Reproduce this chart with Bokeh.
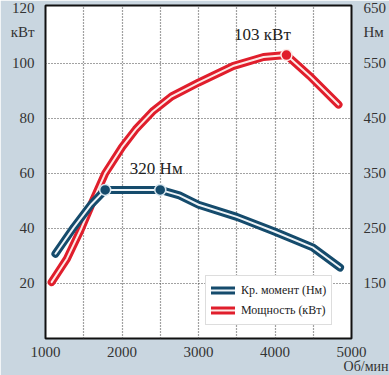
from bokeh.plotting import figure
from bokeh.models import Range1d, LinearAxis, FixedTicker, Label, Legend, LegendItem, Title
from bokeh.embed import file_html
from bokeh.resources import INLINE

# ---- data ----
rpm_power = [1080, 1280, 1460, 1620, 1780, 2000, 2180, 2400, 2650, 3000, 3450, 3850, 4150, 4450, 4830]
power_kw = [20.5, 29, 39.5, 50, 60, 69.5, 76, 82.5, 88, 93, 99, 102.3, 103, 95.5, 85]
rpm_torque = [1130, 1370, 1600, 1780, 2500, 2750, 3000, 3500, 4000, 4500, 4850]
torque_nm = [204, 252, 294, 320, 320, 310, 293, 271, 244, 215, 179]
torque_mark_rpm = [1780, 2500]
torque_mark_nm = [320, 320]
power_mark_rpm = [4150]
power_mark_kw = [103]
x_ticks = [1000, 2000, 3000, 4000, 5000]
x_grid = [1500, 2000, 2500, 3000, 3500, 4000, 4500]
kw_ticks = [20, 40, 60, 80, 100, 120]
nm_ticks = [150, 250, 350, 450, 550, 650]
kw_grid = [20, 40, 60, 80, 100]
kw_unit_pos = 111.5   # where the "кВт" unit text sits on the left scale
nm_unit_pos = 606     # where the "Нм" unit text sits on the right scale

FONT = "Liberation Serif"
BG = "#c9d6e0"
RED = "#e01e2c"
BLUE = "#154b6c"

KW_MAX = 121.0
p = figure(width=389, height=375, output_backend="svg", toolbar_location=None,
           x_range=Range1d(1000, 5000), y_range=Range1d(0, KW_MAX),
           min_border_left=45, min_border_right=38, min_border_top=5, min_border_bottom=37)
p.extra_y_ranges = {"nm": Range1d(5 * 0 + 50, 5 * KW_MAX + 50)}

p.border_fill_color = BG
p.background_fill_color = "white"
p.outline_line_color = "#111111"
p.outline_line_width = 2

# axes
for ax in [p.xaxis[0], p.yaxis[0]]:
    ax.axis_line_color = None
    ax.major_tick_line_color = None
    ax.minor_tick_line_color = None
    ax.major_label_text_font = FONT
    ax.major_label_text_font_size = "15px"
    ax.major_label_text_color = "#333333"
p.xaxis.ticker = FixedTicker(ticks=x_ticks)
p.yaxis.ticker = FixedTicker(ticks=kw_ticks + [kw_unit_pos])
p.yaxis.major_label_overrides = {kw_unit_pos: "кВт"}
p.xaxis.major_label_standoff = 2
p.yaxis.major_label_standoff = 5

rax = LinearAxis(y_range_name="nm", ticker=FixedTicker(ticks=nm_ticks + [nm_unit_pos]))
rax.major_label_overrides = {nm_unit_pos: "Нм"}
rax.axis_line_color = None
rax.major_tick_line_color = None
rax.minor_tick_line_color = None
rax.major_label_text_font = FONT
rax.major_label_text_font_size = "15px"
rax.major_label_text_color = "#333333"
rax.major_label_standoff = 6
p.add_layout(rax, "right")

# x unit text under the axis, right-aligned past the frame edge
p.add_layout(Title(text="Об/мин", align="right", offset=-37, standoff=-6,
                   text_font=FONT, text_font_size="14px", text_font_style="normal",
                   text_color="#333333"), "below")

# grid
p.xgrid.ticker = FixedTicker(ticks=x_grid)
p.ygrid.ticker = FixedTicker(ticks=kw_grid)
for g in [p.xgrid[0], p.ygrid[0]]:
    g.grid_line_color = "#444444"
    g.grid_line_dash = "1 2"
    g.grid_line_width = 1.2

# curves
r_p_out = p.line(rpm_power, power_kw, line_color=RED, line_width=8, line_cap="round", line_join="round")
r_p_in = p.line(rpm_power, power_kw, line_color="#fde9e6", line_width=2, line_cap="round", line_join="round")
r_t_out = p.line(rpm_torque, torque_nm, y_range_name="nm", line_color=BLUE, line_width=8,
                 line_cap="round", line_join="round")
r_t_in = p.line(rpm_torque, torque_nm, y_range_name="nm", line_color="#eef4f8", line_width=2,
                line_cap="round", line_join="round")

p.scatter(torque_mark_rpm, torque_mark_nm, y_range_name="nm", size=11, fill_color=BLUE,
          line_color="#d8e6ef", line_width=1.5)
p.scatter(power_mark_rpm, power_mark_kw, size=11, fill_color=RED, line_color="#fde9e6", line_width=1.5)

# annotations
p.add_layout(Label(x=torque_mark_rpm[1], y=torque_mark_nm[1], y_range_name="nm",
                   text=f"{torque_mark_nm[1]} Нм", text_font=FONT, text_font_size="17px",
                   text_color="#222222", text_align="center", text_baseline="middle",
                   x_offset=-4, y_offset=21))
p.add_layout(Label(x=power_mark_rpm[0], y=power_mark_kw[0],
                   text=f"{power_mark_kw[0]} кВт", text_font=FONT, text_font_size="17px",
                   text_color="#222222", text_align="center", text_baseline="middle",
                   x_offset=-24, y_offset=21))

legend = Legend(items=[
    LegendItem(label="Кр. момент (Нм)", renderers=[r_t_out, r_t_in]),
    LegendItem(label="Мощность (кВт)", renderers=[r_p_out, r_p_in]),
], location=(160, 13))
legend.label_text_font = FONT
legend.label_text_font_size = "12px"
legend.label_text_color = "#222222"
legend.glyph_width = 24
legend.glyph_height = 18
legend.label_height = 18
legend.label_standoff = 6
legend.padding = 5
legend.spacing = 2
legend.margin = 0
legend.border_line_color = "#bbbbbb"
legend.background_fill_color = "white"
legend.background_fill_alpha = 1
p.add_layout(legend)

open("out.html", "w").write(file_html(p, INLINE))
